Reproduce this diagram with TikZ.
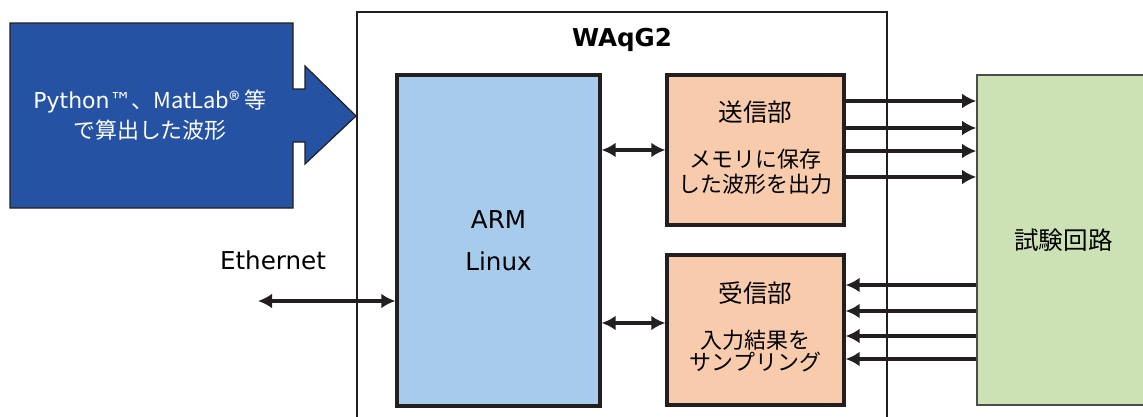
\documentclass[tikz,border=0pt]{standalone}
\usepackage{fontspec}
\setmainfont{DejaVu Sans}
\newfontfamily\cjk{Noto Sans CJK JP}
\usetikzlibrary{calc, arrows.meta}

\definecolor{edge}{HTML}{231F20}
\definecolor{wavblue}{HTML}{2652A3}
\definecolor{armblue}{HTML}{A6CBEB}
\definecolor{peach}{HTML}{F8CBAD}
\definecolor{dutgreen}{HTML}{CCE2B5}

\begin{document}
\begin{tikzpicture}[x=0.02cm,y=-0.02cm,
        box/.style={draw=edge, line width=1.9pt, inner sep=0pt},
        sig/.style={draw=edge, line width=2.3pt, arrows={[length=8pt, width=8.5pt]}}]
    \useasboundingbox (0,0) rectangle (1143,416);
        % waveform source
        \filldraw[fill=wavblue, draw=edge, line width=0.7pt] (10,23) -- (293,23) -- (293,89) -- (305,89) -- (305,66)
            -- (356,116) -- (305,164) -- (305,142) -- (293,142) -- (293,208) -- (10,208) -- cycle;
        \node[text=white, align=center, font=\fontsize{12.5}{17}\selectfont] (src) at (150,115)
            {Python™\cjk{、}MatLab\cjk{®} \cjk{等}\\\cjk{で算出した波形}};
        % board
        \node[draw=edge, line width=0.8pt, minimum width=10.6cm, minimum height=8.4cm] (waqg) at (622,222) {};
        \node[font=\bfseries\fontsize{14}{17}\selectfont] (title) at (622,40) {WAqG2};
        \node[box, fill=armblue, minimum width=4.06cm, minimum height=6.62cm, align=center,
            font=\fontsize{14}{24}\selectfont] (arm) at (498.5,240.5) {ARM\\Linux};
        \node[box, fill=peach, minimum width=3.54cm, minimum height=3cm] (tx) at (755.5,150) {};
        \node[font=\cjk\fontsize{14}{17}\selectfont] (txname) at (755.5,112) {送信部};
        \node[align=center, font=\cjk\fontsize{12.5}{14}\selectfont] (txnote) at (755.5,172) {メモリに保存\\した波形を出力};
        \node[box, fill=peach, minimum width=3.54cm, minimum height=3cm] (rx) at (755.5,330) {};
        \node[font=\cjk\fontsize{14}{17}\selectfont] (rxname) at (755.5,293) {受信部};
        \node[align=center, font=\cjk\fontsize{12.5}{12.5}\selectfont] (rxnote) at (755.5,351) {入力結果を\\サンプリング};
        % circuit under test
        \node[draw=gray!60!black, line width=0.9pt, fill=dutgreen, minimum width=3.46cm, minimum height=6.6cm,
            font=\cjk\fontsize{14}{17}\selectfont] (dut) at (1063.5,240) {試験回路};
        % connections
        \foreach \y in {101,128,151,177} {
            \draw[sig, -Latex] (tx.east |- 0,\y) -- (dut.west |- 0,\y);
        }
        \foreach \y in {285,311,336,359} {
            \draw[sig, -Latex] (dut.west |- 0,\y) -- (rx.east |- 0,\y);
        }
        \draw[sig, Latex-Latex] (arm.east |- 0,150) -- (tx.west |- 0,150);
        \draw[sig, Latex-Latex] (arm.east |- 0,323) -- (rx.west |- 0,323);
        \coordinate (eth) at (258,301);
        \draw[sig, Latex-Latex] (eth) -- (arm.west |- eth);
        \node[font=\fontsize{14}{17}\selectfont] (ethname) at (273,260) {Ethernet};
    \end{tikzpicture}
\end{document}
